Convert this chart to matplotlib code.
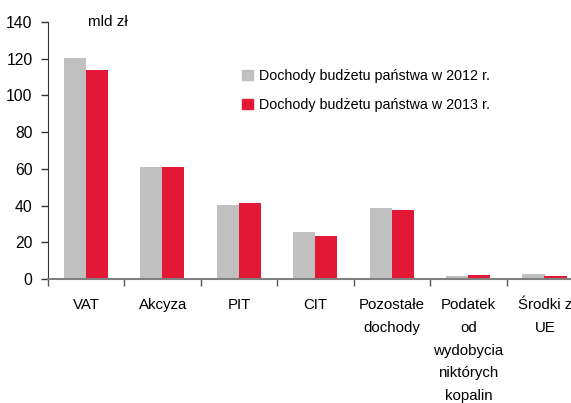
import matplotlib
matplotlib.use("Agg")
import matplotlib.pyplot as plt
from matplotlib.patches import Rectangle
import numpy as np

categories = ["VAT", "Akcyza", "PIT", "CIT", "Pozostałe\ndochody",
              "Podatek\nod\nwydobycia\nniktórych\nkopalin", "Środki z\nUE"]
values_2012 = [120.2, 61.0, 40.3, 25.6, 38.7, 1.5, 2.8]
values_2013 = [113.7, 61.0, 41.3, 23.3, 37.6, 2.2, 1.7]
series_labels = ["Dochody budżetu państwa w 2012 r.", "Dochody budżetu państwa w 2013 r."]
yticks = [0, 20, 40, 60, 80, 100, 120, 140]

c_grey = "#C0C0C0"
c_red = "#E31837"

plt.rcParams['font.family'] = ['Liberation Sans', 'DejaVu Sans']
fig = plt.figure(figsize=(5.71, 4.03), dpi=100)
ax = fig.add_axes([48/571, 124/403, 535/571, 257/403])

x = np.arange(len(categories))
w = 0.29
ax.bar(x - 0.148, values_2012, width=w, color=c_grey, zorder=2)
ax.bar(x + 0.14, values_2013, width=w, color=c_red, zorder=2)

ax.set_xlim(-0.5, len(categories) - 0.5)
ax.set_ylim(0, 140)
ax.set_yticks(yticks)
ax.set_yticklabels([str(t) for t in yticks], fontsize=11.3)
ax.tick_params(axis='y', direction='out', length=5, width=1, pad=6, color='#333333')

ax.set_xticks(np.arange(-0.5, len(categories) - 0.5 + 1e-9, 1.0))
ax.set_xticklabels([])
ax.set_xticks(x, minor=True)
ax.set_xticklabels(categories, minor=True, fontsize=10.8, linespacing=1.78, va='top')
ax.tick_params(axis='x', which='major', direction='out', length=5, width=1, color='#555555')
ax.tick_params(axis='x', which='minor', length=0, pad=14)

for s in ['top', 'right']:
    ax.spines[s].set_visible(False)
ax.spines['left'].set_color('#333333')
ax.spines['bottom'].set_color('#808080')
ax.spines['bottom'].set_linewidth(1.5)
ax.spines['bottom'].set_zorder(3)

fig.text(88/571, 1 - 22/403, "mld zł", fontsize=11, va='center', ha='left')

handles = [Rectangle((0, 0), 1, 1, color=c_grey), Rectangle((0, 0), 1, 1, color=c_red)]
fig.legend(handles, series_labels, loc='upper left', bbox_to_anchor=(242/571, 1 - 69/403),
           frameon=False, fontsize=10.3, handlelength=0.78, handleheight=0.78,
           handletextpad=0.4, labelspacing=1.05, borderpad=0, borderaxespad=0)

fig.savefig("out.png", dpi=100)
